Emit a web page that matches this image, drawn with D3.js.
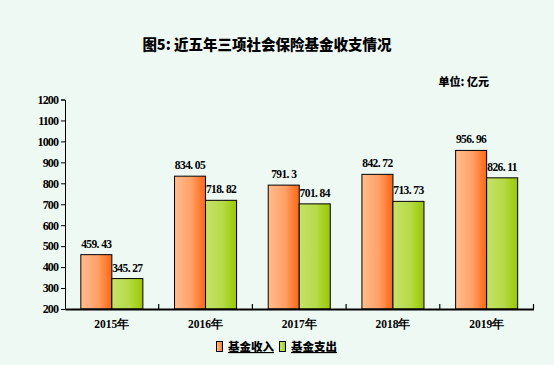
<!DOCTYPE html>
<html><head><meta charset="utf-8">
<script src="https://cdn.jsdelivr.net/npm/d3@7"></script>
<style>body{margin:0;background:#eef9f3;}svg{display:block;}</style>
</head><body>
<script>
const years = ["2015年","2016年","2017年","2018年","2019年"];
const seriesNames = ["基金收入","基金支出"];
const income = [459.43, 834.05, 791.3, 842.72, 956.96];
const expense = [345.27, 718.82, 701.84, 713.73, 826.11];
const incomeLabels = ["459. 43","834. 05","791. 3","842. 72","956. 96"];
const expenseLabels = ["345. 27","718. 82","701. 84","713. 73","826. 11"];
const yTicks = [200,300,400,500,600,700,800,900,1000,1100,1200];

(function(){
const W = 554, H = 365;
const svg = d3.select("body").append("svg").attr("width", W).attr("height", H);
svg.append("rect").attr("width", W).attr("height", H).attr("fill", "#eef9f3");

const defs = svg.append("defs");
const g1 = defs.append("linearGradient").attr("id","gO");
g1.append("stop").attr("offset","0%").attr("stop-color","#ffbd90");
g1.append("stop").attr("offset","55%").attr("stop-color","#ffa066");
g1.append("stop").attr("offset","100%").attr("stop-color","#ff6410");
const g2 = defs.append("linearGradient").attr("id","gG");
g2.append("stop").attr("offset","0%").attr("stop-color","#c6e26a");
g2.append("stop").attr("offset","55%").attr("stop-color","#b6da48");
g2.append("stop").attr("offset","100%").attr("stop-color","#99c800");

const mLeft = 65, mRight = 533.5, mTop = 99.5, mBottom = 309;
const x = d3.scaleBand().domain(years).range([mLeft, mRight]).paddingInner(0).paddingOuter(0);
const y = d3.scaleLinear().domain([200, 1200]).range([mBottom, mTop]);
const inner = d3.scaleBand().domain(seriesNames).range([0, x.bandwidth()]).paddingOuter(0.51).paddingInner(0);

const serif = "'Liberation Serif','DejaVu Serif',serif";
const cjk = "'Noto Sans CJK SC',sans-serif";

svg.append("text").attr("x", 267).attr("y", 50).attr("text-anchor","middle")
  .attr("font-family", cjk).attr("font-weight","900").attr("font-size", 14.5).attr("fill","#000")
  .text("图5: 近五年三项社会保险基金收支情况");
svg.append("text").attr("x", 489).attr("y", 86).attr("text-anchor","end")
  .attr("font-family", cjk).attr("font-weight","900").attr("font-size", 11).attr("fill","#000")
  .text("单位: 亿元");

const yAxis = svg.append("g").attr("transform", `translate(${mLeft},0)`)
  .call(d3.axisLeft(y).tickValues(yTicks).tickSize(4).tickPadding(3).tickFormat(d3.format("d")));
yAxis.select(".domain").attr("stroke","#000").attr("stroke-width",1);
yAxis.selectAll(".tick line").attr("stroke","#000");
yAxis.selectAll("text").attr("font-family", serif).attr("font-weight","bold").attr("font-size", 12)
  .attr("fill","#000").attr("letter-spacing","-0.9px");

const data = years.map((yr,i)=>({yr, vals:[
  {s:seriesNames[0], v:income[i], lab:incomeLabels[i]},
  {s:seriesNames[1], v:expense[i], lab:expenseLabels[i]}]}));
const grp = svg.selectAll(".grp").data(data).enter().append("g")
  .attr("transform", d=>`translate(${x(d.yr)},0)`);
grp.selectAll("rect").data(d=>d.vals).enter().append("rect")
  .attr("x", d=>inner(d.s)).attr("width", inner.bandwidth())
  .attr("y", d=>y(d.v)).attr("height", d=>mBottom - y(d.v))
  .attr("fill", d=>d.s===seriesNames[0] ? "url(#gO)" : "url(#gG)")
  .attr("stroke","#000").attr("stroke-width",1);
grp.selectAll("text").data(d=>d.vals).enter().append("text")
  .attr("x", d=>inner(d.s) + inner.bandwidth()/2).attr("y", d=>y(d.v) - 7)
  .attr("text-anchor","middle").attr("font-family", serif).attr("font-weight","bold")
  .attr("font-size", 11.5).attr("letter-spacing","-0.6px").attr("fill","#000")
  .text(d=>d.lab);

const xAxis = svg.append("g").attr("transform", `translate(0,${mBottom})`)
  .call(d3.axisBottom(x).tickSize(0).tickPadding(11));
xAxis.select(".domain").attr("stroke","#000").attr("stroke-width",2);
xAxis.selectAll("text").attr("font-family", serif).attr("font-weight","bold").attr("font-size", 11.5).attr("fill","#000");
svg.append("g").selectAll("line").data(years).enter().append("line")
  .attr("x1", d=>x(d)+x.bandwidth()).attr("x2", d=>x(d)+x.bandwidth())
  .attr("y1", mBottom).attr("y2", mBottom-5).attr("stroke","#000").attr("stroke-width",1.2);

const leg = svg.append("g");
const legItems = [{s:seriesNames[0], fill:"url(#gO)", x:216},{s:seriesNames[1], fill:"url(#gG)", x:279}];
leg.selectAll("rect").data(legItems).enter().append("rect")
  .attr("x", d=>d.x+0.5).attr("y", 341.5).attr("width",6).attr("height",10)
  .attr("fill", d=>d.fill).attr("stroke","#000").attr("stroke-width",1);
leg.selectAll("text").data(legItems).enter().append("text")
  .attr("x", d=>d.x+12).attr("y", 351).attr("font-family", cjk).attr("font-weight","900")
  .attr("font-size", 11.5).attr("fill","#000").attr("text-decoration","underline")
  .text(d=>d.s);
})();
</script>
</body></html>
